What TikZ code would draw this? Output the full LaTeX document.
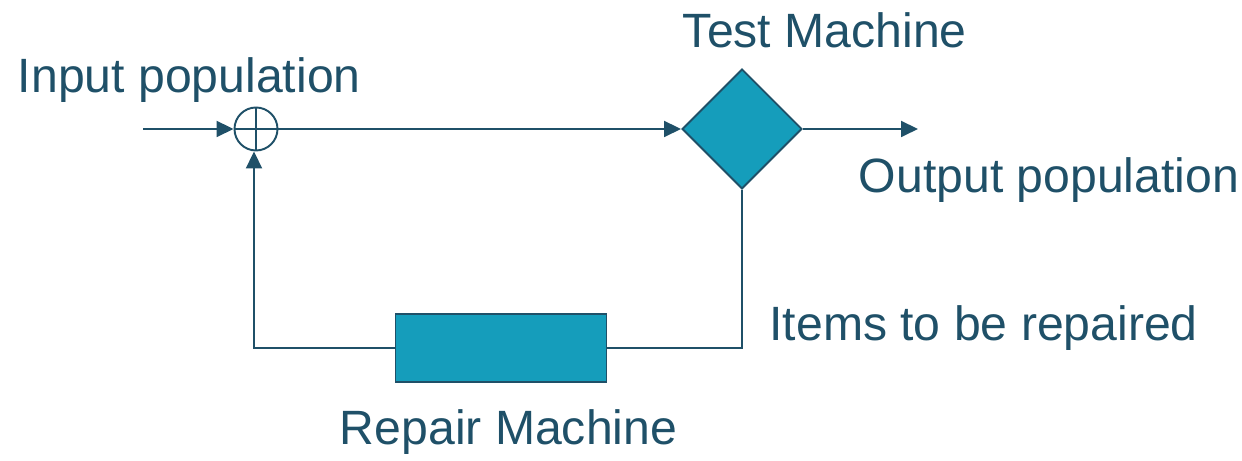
\documentclass[tikz,border=0pt]{standalone}
\usepackage{fontspec}
\setmainfont{Liberation Sans}
\usetikzlibrary{shapes.geometric,arrows.meta}
\definecolor{lineteal}{RGB}{31,80,104}
\definecolor{fillteal}{RGB}{21,157,187}
\begin{document}
\begin{tikzpicture}[line width=1.1pt, draw=lineteal, text=lineteal, >={Triangle[length=0.34cm,width=0.32cm]}]
			\tikzstyle{lbl} = [anchor=base west,inner sep=0pt,font=\fontsize{27.4}{31}\selectfont];
			\tikzstyle{machine} = [rectangle,draw=lineteal,fill=fillteal,minimum width=4.22cm,minimum height=1.36cm,inner sep=0pt];
			\tikzstyle{tester} = [diamond,draw=lineteal,fill=fillteal,minimum width=2.4cm,minimum height=2.4cm,inner sep=0pt];
			\useasboundingbox (0,0) rectangle (24.84,9.22);
			
			\node[draw=lineteal,circle,minimum size=0.86cm,inner sep=0pt](sum) at (5.12,6.64){};
			\draw[lineteal] (sum.north) -- (sum.south);
			\draw[lineteal] (sum.west) -- (sum.east);
			\node[tester](test) at (14.84,6.64){};
			\node[machine](repair) at (10.02,2.26){};
			
			\coordinate (in) at (2.86,6.64);
			\coordinate (out) at (18.36,6.64);
			\coordinate (cr) at (14.84,2.26);
			\coordinate (cl) at (5.08,2.26);
			
			\draw[->,lineteal] (in) -- (sum.west);
			\draw[->,lineteal] (sum.east) -- (test.west);
			\draw[->,lineteal] (test.east) -- (out);
			\draw[lineteal] (test.south) -- (cr) -- (repair.east);
			\draw[->,lineteal] (repair.west) -- (cl) -- (cl |- sum.south);
			
			\node[lbl](tin) at (0.34,7.36){Input population};
			\node[lbl](ttest) at (13.64,8.26){Test Machine};
			\node[lbl](tout) at (17.16,5.36){Output population};
			\node[lbl](titems) at (15.37,2.40){Items to be repaired};
			\node[lbl](trepair) at (6.78,0.32){Repair Machine};
\end{tikzpicture}
\end{document}
